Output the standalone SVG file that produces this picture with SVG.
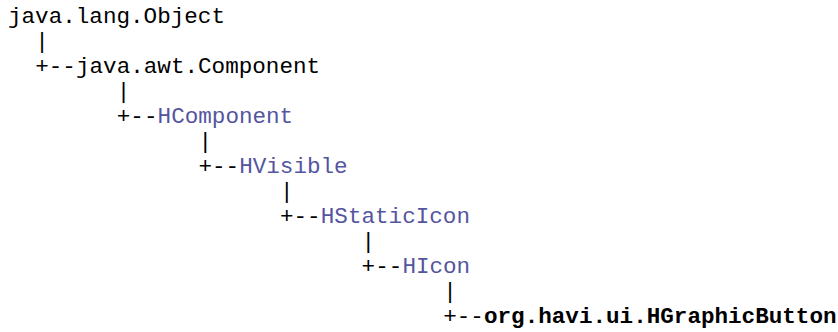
<svg xmlns="http://www.w3.org/2000/svg" width="838" height="332" viewBox="0 0 838 332">
<style>
text{font-family:"Liberation Mono","Courier New",monospace;font-size:22.6px;fill:#000}
.lnk{fill:#55559f}
.cur{font-weight:bold}
</style>
<rect width="838" height="332" fill="#fff"/>
<g id="connectors">
<text x="35.2" y="48">|</text>
<text x="35.2" y="73">+--</text>
<text x="116.8" y="98">|</text>
<text x="116.8" y="123">+--</text>
<text x="198.4" y="148">|</text>
<text x="198.4" y="173">+--</text>
<text x="280" y="198">|</text>
<text x="280" y="223">+--</text>
<text x="361.6" y="248">|</text>
<text x="361.6" y="273">+--</text>
<text x="443.2" y="298">|</text>
<text x="443.2" y="323">+--</text>
</g>
<g id="node-object"><text x="8" y="23">java.lang.Object</text></g>
<g id="node-component"><text x="76" y="73">java.awt.Component</text></g>
<g id="node-hcomponent"><text class="lnk" x="157.6" y="123">HComponent</text></g>
<g id="node-hvisible"><text class="lnk" x="239.2" y="173">HVisible</text></g>
<g id="node-hstaticicon"><text class="lnk" x="320.8" y="223">HStaticIcon</text></g>
<g id="node-hicon"><text class="lnk" x="402.4" y="273">HIcon</text></g>
<g id="node-hgraphicbutton"><text class="cur" x="484" y="323">org.havi.ui.HGraphicButton</text></g>
</svg>
